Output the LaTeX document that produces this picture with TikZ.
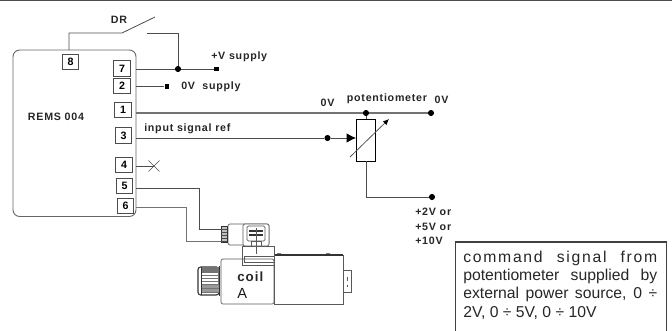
\documentclass[tikz,border=0pt]{standalone}
\usepackage{fontspec}
\setmainfont{Liberation Sans}
\newfontfamily\lblfont[LetterSpace=7]{Liberation Sans}
\newfontfamily\coilfont[LetterSpace=8]{Liberation Sans}
\newfontfamily\notefont[LetterSpace=11]{Liberation Sans}
\usetikzlibrary{arrows.meta}
\definecolor{wirecol}{gray}{0.3}
\tikzset{
    pinbox/.style={draw=wirecol,line width=0.6pt,inner sep=0pt,minimum width=12.5pt,minimum height=11.5pt,font=\fontsize{8}{9}\selectfont\bfseries},
    wire/.style={draw=wirecol,line width=0.6pt},
    railwire/.style={draw=black!55,line width=1.1pt},
    joint/.style={circle,fill=black,inner sep=0pt,minimum size=4.6pt},
    endsq/.style={rectangle,fill=black,inner sep=0pt,minimum size=3.4pt},
    lbl/.style={inner sep=0pt,font=\lblfont\fontsize{8}{9}\selectfont\bfseries,text=black!85},
    part/.style={draw=black!65,line width=0.5pt},
}
\begin{document}
\begin{tikzpicture}[x=0.75pt,y=-0.75pt]
            \useasboundingbox (0,0) rectangle (672,331);

            \draw[black!70,line width=1pt] (0,0.5) -- (672,0.5);

            % module
            \draw[wire,draw=black!60,line width=0.7pt,rounded corners=5pt] (13,50) rectangle (136,216.5);
            \node[lbl] (rems) at (56,117) {REMS 004};

            \foreach \name/\lab/\x/\y in {pa/8/70.5/62, pb/7/122/68.5, pc/2/122/86, pd/1/123/110, pe/3/123.5/135.5, pf/4/124/165, pg/5/124.5/186, ph/6/125.5/206} {
                \node[pinbox] (\name) at (\x,\y) {\lab};
            }

            % wire ends on the module edge
            \coordinate (wb) at (136,69); \coordinate (wc) at (136,86.5); \coordinate (wd) at (136,113);
            \coordinate (we) at (136,138); \coordinate (wf) at (136,166); \coordinate (wg) at (136,188.5);
            \coordinate (wh) at (136,207.5); \coordinate (wa) at (69,50);

            % switch
            \coordinate (swa) at (122,33); \coordinate (swb) at (155,17); \coordinate (swc) at (147,33.5);
            \node[joint] (jb) at (178,69) {};
            \node[endsq] (sqb) at (216.5,69) {};
            \node[endsq] (sqc) at (167,86.5) {};
            \draw[wire] (wa) |- (swa) -- (swb);
            \draw[wire] (swc) -| (jb);
            \draw[wire] (wb) -- (jb) -- (sqb);
            \draw[wire] (wc) -- (sqc);

            \node[lbl] (dr) at (119,20) {DR};
            \node[lbl,anchor=west] (vsup) at (211,57) {+V supply};
            \node[lbl,anchor=west] (zsup) at (181,86.5) {0V\ \ supply};

            % potentiometer
            \node[draw=black,line width=0.7pt,inner sep=0pt,minimum width=14.25pt,minimum height=31.5pt] (pot) at (366,140) {};
            \node[joint] (jd) at (366,113) {};
            \node[joint] (je) at (431,113) {};
            \node[joint] (jf) at (327.5,138) {};
            \node[joint] (jg) at (432,197) {};
            \draw[railwire] (wd) -- (jd) -- (je);
            \draw[wire] (jd) -- (pot.north);
            \draw[wire] (we) -- (jf);
            \draw[wire,-{Latex[length=7pt,width=7pt,color=black]}] (jf) -- (pot.west |- jf);
            \draw[wire] (pot.south) |- (jg);
            \coordinate (sla) at (350,157); \coordinate (slb) at (389,119);
            \draw[draw=black!65,line width=0.6pt,-{Latex[length=4.5pt,width=4pt,color=black]}] (sla) -- (slb);

            \node[lbl] (zva) at (327.5,103) {0V};
            \node[lbl] (potlab) at (387,99) {potentiometer};
            \node[lbl] (zvb) at (441.5,100) {0V};
            \node[lbl,anchor=west] (insig) at (144,129) {input signal ref};
            \node[lbl,anchor=west] (vta) at (415,212) {+2V or};
            \node[lbl,anchor=west] (vtb) at (415,226.5) {+5V or};
            \node[lbl,anchor=west] (vtc) at (415,241) {+10V};

            % pin 4 not connected
            \coordinate (xc) at (154,166);
            \draw[wire] (wf) -- (xc);
            \draw[draw=black!70,line width=0.4pt] (148.5,160.5) -- (159.5,171.5) (148.5,171.5) -- (159.5,160.5);

            % valve
            \draw[part,rounded corners=1.5pt] (221,259) rectangle (274,304);
            \draw[part] (274,255) rectangle (343,304);
            \draw[black!80,line width=0.8pt] (274,255) -- (343,255);
            \fill[black!80] (277,253.5) rectangle (281,255) (326,253.5) rectangle (330,255);
            \draw[part] (343,270) rectangle (351,292);
            \draw[part,dashed] (347,277) -- (347,287);
            \draw[part] (242,246) rectangle (274,265);
            \draw[part] (244,256) rectangle (274,262);
            \draw[part,rounded corners=1.5pt] (228,224) rectangle (269,245);
            \draw[part,fill=white,rounded corners=1.5pt] (243,224) rectangle (269,246);
            \draw[part,rounded corners=1pt] (247,226) rectangle (265,241);
            \draw[black!80,line width=1pt] (249,231) -- (263,231) (249,235) -- (263,235);
            \draw[part] (256,228) -- (256,254);
            \draw[part] (251,241) rectangle (261,246);

            % connector and knob
            \node[draw=black!80,fill=black!25,line width=0.5pt,inner sep=0pt,minimum width=4.5pt,minimum height=12.5pt] (plug) at (224,234.5) {};
            \foreach \y in {229,232,235,238,241} {
                \draw[black!70,line width=0.4pt] (221,\y) -- (227,\y);
            }
            \coordinate (pga) at (221,229); \coordinate (pgb) at (221,241);
            \draw[wire] (wg) -- (199,188.5) |- (pga);
            \draw[wire,draw=black!55] (wh) -- (186,207.5) |- (pgb);

            \draw[part,draw=black!80,line width=0.8pt,rounded corners=2pt] (198,267) rectangle (219,295);
            \fill[black!55] (201,267) rectangle (219,272);
            \fill[black!40] (201,285) rectangle (219,293);
            \foreach \y in {272,275,278,281,284,288,292} {
                \draw[black!55,line width=0.4pt] (201,\y) -- (219,\y);
            }
            \draw[black!80,line width=0.7pt] (219,266) -- (219,296) (201,267) -- (201,295);

            \node[inner sep=0pt,anchor=west,font=\coilfont\fontsize{10}{12}\selectfont\bfseries,text=black!85] (coil) at (237,276.5) {coil};
            \node[inner sep=0pt,anchor=west,font=\fontsize{11}{12}\selectfont,text=black!90] (coilb) at (237,293.5) {A};

            % note
            \draw[black!75,line width=0.8pt] (455.5,332) -- (455.5,242) -- (666.5,242) -- (666.5,332);
            \node[anchor=north west,inner sep=0pt,text width=145.5pt,align=justify,font=\fontsize{11.8}{13.8}\selectfont,text=black!85] (note) at (463,250.5)
                {{\notefont command signal from}\linebreak potentiometer supplied by\linebreak external power source, 0 ÷\linebreak 2V, 0 ÷ 5V, 0 ÷ 10V};
        \end{tikzpicture}
\end{document}
